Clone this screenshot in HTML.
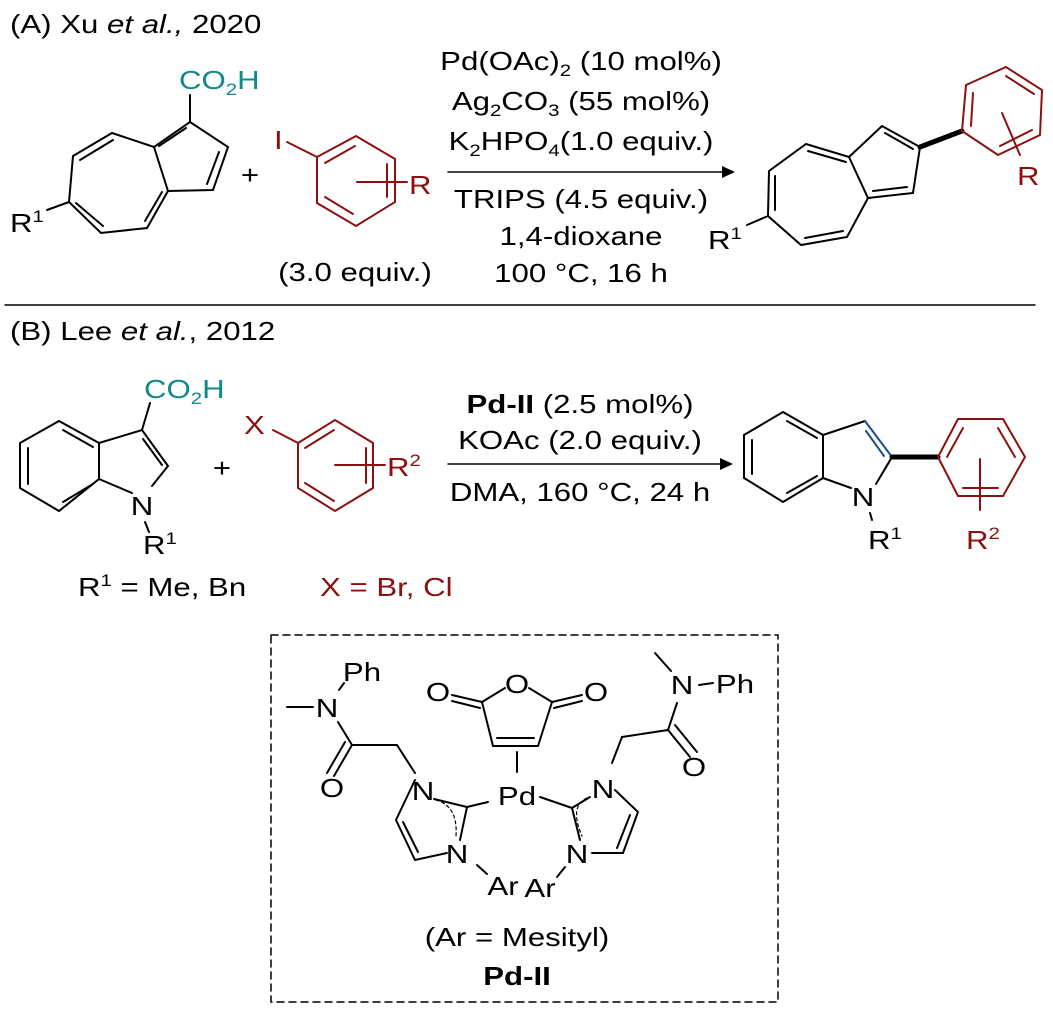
<!DOCTYPE html>
<html><head><meta charset="utf-8"><style>html,body{margin:0;padding:0;background:#fff}svg{display:block}</style></head>
<body>
<svg width="1053" height="1013" viewBox="0 0 1053 1013" xmlns="http://www.w3.org/2000/svg" font-family="Liberation Sans, Arial, sans-serif" font-size="26">
<g stroke="#000" stroke-width="2" fill="none" stroke-linecap="round">
<polyline points="190,122 228,147 213,190 168,191 154,147 190,122"/>
<polyline points="154,147 112,133 73,156 69,202 101,233 147,228 168,191"/>
<line x1="159" y1="146" x2="186" y2="128"/>
<line x1="219" y1="152" x2="207" y2="184"/>
<line x1="113" y1="140" x2="80" y2="160"/>
<line x1="76" y1="203" x2="103" y2="226"/>
<line x1="145" y1="221" x2="162" y2="192"/>
<line x1="190" y1="122" x2="190" y2="95"/>
<line x1="69" y1="202" x2="47" y2="210"/>
<polyline points="882,126 920,147 913,193 868,198 849,157 882,126"/>
<polyline points="849,157 806,144 769,171 768,216 801,245 847,237 868,198"/>
<line x1="885" y1="133" x2="913" y2="149"/>
<line x1="873" y1="191" x2="907" y2="187"/>
<line x1="808" y1="151" x2="846" y2="162"/>
<line x1="775" y1="176" x2="775" y2="210"/>
<line x1="805" y1="238" x2="843" y2="231"/>
<line x1="768" y1="216" x2="747" y2="225"/>
<line x1="920" y1="147" x2="962" y2="131" stroke-width="5"/>
<line x1="448" y1="172" x2="725" y2="172" stroke-width="1.5"/>
<line x1="5" y1="305" x2="1035" y2="305" stroke-width="1.5"/>
<polyline points="59,421 99,443 99,479 59,511 20,488 20,443 59,421"/>
<line x1="63" y1="430" x2="93" y2="447"/>
<line x1="28" y1="448" x2="28" y2="484"/>
<line x1="63" y1="502" x2="93" y2="484"/>
<polyline points="99,443 142,430 168,466 152,486"/>
<line x1="99" y1="479" x2="132" y2="493"/>
<line x1="143" y1="439" x2="162" y2="465"/>
<line x1="142" y1="430" x2="150" y2="403"/>
<line x1="145" y1="522" x2="149" y2="532"/>
<polyline points="783,412 823,435 823,478 783,502 744,478 744,435 783,412"/>
<line x1="787" y1="421" x2="817" y2="438"/>
<line x1="752" y1="440" x2="752" y2="474"/>
<line x1="787" y1="493" x2="817" y2="476"/>
<line x1="823" y1="435" x2="865" y2="421"/>
<line x1="865" y1="421" x2="892" y2="457" stroke="#1a4f8a"/>
<line x1="866" y1="431" x2="884" y2="456" stroke="#1a4f8a"/>
<line x1="892" y1="457" x2="876" y2="484"/>
<line x1="823" y1="478" x2="851" y2="488"/>
<line x1="870" y1="513" x2="872" y2="520"/>
<line x1="892" y1="457" x2="938" y2="457" stroke-width="5"/>
<line x1="448" y1="464" x2="723" y2="464" stroke-width="1.5"/>
<rect x="271" y="635" width="507" height="367" stroke-width="1.5" stroke-dasharray="7,5"/>
<polyline points="482,702 493,746 538,746 552,702"/>
<line x1="482" y1="702" x2="452" y2="695"/>
<line x1="480" y1="708" x2="452" y2="701"/>
<line x1="552" y1="702" x2="582" y2="695"/>
<line x1="554" y1="708" x2="582" y2="701"/>
<line x1="482" y1="702" x2="505" y2="688"/>
<line x1="529" y1="688" x2="552" y2="702"/>
<line x1="497" y1="738" x2="534" y2="738"/>
<line x1="517" y1="752" x2="517" y2="772"/>
<line x1="488" y1="802" x2="467" y2="807"/>
<polyline points="434,799 467,807 460,840"/>
<polyline points="415,780 396,820 415,860 447,853"/>
<line x1="403" y1="822" x2="418" y2="852"/>
<path d="M436,800 Q458,806 456,836" stroke-dasharray="3,3" stroke-width="1.2"/>
<line x1="477" y1="865" x2="487" y2="874"/>
<line x1="415" y1="773" x2="397" y2="745"/>
<line x1="397" y1="745" x2="352" y2="745"/>
<line x1="352" y1="745" x2="334" y2="776"/>
<line x1="345" y1="742" x2="327" y2="773"/>
<line x1="352" y1="745" x2="338" y2="722"/>
<line x1="287" y1="707" x2="313" y2="707"/>
<line x1="339" y1="690" x2="344" y2="683"/>
<line x1="540" y1="797" x2="572" y2="808"/>
<polyline points="590,797 572,808 580,840"/>
<polyline points="615,790 638,812 623,853 592,853"/>
<line x1="630" y1="815" x2="617" y2="848"/>
<path d="M587,798 Q569,806 582,836" stroke-dasharray="3,3" stroke-width="1.2"/>
<line x1="565" y1="867" x2="557" y2="877"/>
<line x1="612" y1="763" x2="622" y2="737"/>
<line x1="622" y1="737" x2="668" y2="730"/>
<line x1="668" y1="730" x2="690" y2="757"/>
<line x1="675" y1="725" x2="697" y2="752"/>
<line x1="668" y1="730" x2="677" y2="703"/>
<line x1="655" y1="653" x2="671" y2="671"/>
<line x1="699" y1="685" x2="713" y2="683"/>
</g>
<g stroke="#8b1010" stroke-width="2" fill="none" stroke-linecap="round">
<polyline points="317,157 356,136 395,159 395,202 356,226 317,203 317,157"/>
<line x1="325" y1="163" x2="355" y2="146"/>
<line x1="387" y1="164" x2="387" y2="197"/>
<line x1="325" y1="197" x2="353" y2="214"/>
<line x1="287" y1="142" x2="317" y2="157"/>
<line x1="357" y1="182" x2="407" y2="182"/>
<polyline points="962,131 966,85 1006,67 1042,90 1040,135 998,155 962,131"/>
<line x1="971" y1="126" x2="973" y2="93"/>
<line x1="1006" y1="76" x2="1034" y2="94"/>
<line x1="1032" y1="130" x2="1000" y2="146"/>
<line x1="1002" y1="113" x2="1020" y2="155"/>
<polyline points="298,443 335,420 373,443 373,488 335,511 298,488 298,443"/>
<line x1="305" y1="448" x2="334" y2="430"/>
<line x1="366" y1="448" x2="366" y2="483"/>
<line x1="305" y1="483" x2="334" y2="501"/>
<line x1="273" y1="430" x2="298" y2="443"/>
<line x1="335" y1="465" x2="385" y2="465"/>
<polyline points="938,457 958,419 1003,419 1025,457 1003,496 958,496 938,457"/>
<line x1="947" y1="457" x2="963" y2="428"/>
<line x1="998" y1="428" x2="1015" y2="457"/>
<line x1="963" y1="488" x2="998" y2="488"/>
<line x1="980" y1="459" x2="980" y2="510"/>
</g>
<polygon points="735,172 722,166 722,178" fill="#000"/>
<polygon points="733,464 720,458 720,470" fill="#000"/>
<g fill="#000">
<text transform="translate(10,33) scale(1.2,1)">(A) Xu <tspan font-style="italic">et al.,</tspan> 2020</text>
<text transform="translate(10,340) scale(1.2,1)">(B) Lee <tspan font-style="italic">et al.</tspan>, 2012</text>
<text transform="translate(10,232) scale(1.2,1)">R<tspan font-size="17" dy="-10">1</tspan></text>
<text transform="translate(250,184) scale(1.2,1)" text-anchor="middle">+</text>
<text transform="translate(355,281) scale(1.2,1)" text-anchor="middle">(3.0 equiv.)</text>
<g text-anchor="middle">
<text transform="translate(581,70) scale(1.2,1)">Pd(OAc)<tspan font-size="17" dy="6">2</tspan><tspan dy="-6"> (10 mol%)</tspan></text>
<text transform="translate(581,110) scale(1.2,1)">Ag<tspan font-size="17" dy="6">2</tspan><tspan dy="-6">CO</tspan><tspan font-size="17" dy="6">3</tspan><tspan dy="-6"> (55 mol%)</tspan></text>
<text transform="translate(581,150) scale(1.2,1)">K<tspan font-size="17" dy="6">2</tspan><tspan dy="-6">HPO</tspan><tspan font-size="17" dy="6">4</tspan><tspan dy="-6">(1.0 equiv.)</tspan></text>
<text transform="translate(581,208) scale(1.2,1)">TRIPS (4.5 equiv.)</text>
<text transform="translate(581,245) scale(1.2,1)">1,4-dioxane</text>
<text transform="translate(581,282) scale(1.2,1)">100 °C, 16 h</text>
<text transform="translate(580,413) scale(1.2,1)"><tspan font-weight="bold">Pd-II</tspan> (2.5 mol%)</text>
<text transform="translate(580,449) scale(1.2,1)">KOAc (2.0 equiv.)</text>
<text transform="translate(580,501) scale(1.2,1)">DMA, 160 °C, 24 h</text>
</g>
<text transform="translate(708,249) scale(1.2,1)">R<tspan font-size="17" dy="-10">1</tspan></text>
<text transform="translate(222,477) scale(1.2,1)" text-anchor="middle">+</text>
<text transform="translate(142,515) scale(1.2,1)" text-anchor="middle">N</text>
<text transform="translate(143,554) scale(1.2,1)">R<tspan font-size="17" dy="-10">1</tspan></text>
<text transform="translate(78,596) scale(1.2,1)">R<tspan font-size="17" dy="-10">1</tspan><tspan dy="10"> = Me, Bn</tspan></text>
<text transform="translate(863,506) scale(1.2,1)" text-anchor="middle">N</text>
<text transform="translate(868,549) scale(1.2,1)">R<tspan font-size="17" dy="-10">1</tspan></text>
<g text-anchor="middle">
<text transform="translate(327,717) scale(1.2,1)">N</text>
<text transform="translate(362,681) scale(1.2,1)">Ph</text>
<text transform="translate(332,797) scale(1.2,1)">O</text>
<text transform="translate(438,701) scale(1.2,1)">O</text>
<text transform="translate(517,693) scale(1.2,1)">O</text>
<text transform="translate(596,701) scale(1.2,1)">O</text>
<text transform="translate(682,694) scale(1.2,1)">N</text>
<text transform="translate(735,693) scale(1.2,1)">Ph</text>
<text transform="translate(694,776) scale(1.2,1)">O</text>
<text transform="translate(517,805) scale(1.2,1)">Pd</text>
<text transform="translate(423,800) scale(1.2,1)">N</text>
<text transform="translate(457,863) scale(1.2,1)">N</text>
<text transform="translate(603,798) scale(1.2,1)">N</text>
<text transform="translate(577,863) scale(1.2,1)">N</text>
<text transform="translate(503,895) scale(1.2,1)">Ar</text>
<text transform="translate(540,897) scale(1.2,1)">Ar</text>
<text transform="translate(517,946) scale(1.2,1)">(Ar = Mesityl)</text>
<text transform="translate(517,985) scale(1.2,1)" font-weight="bold">Pd-II</text>
</g>
</g>
<g fill="#0e8a8a">
<text transform="translate(179,89) scale(1.2,1)">CO<tspan font-size="17" dy="6">2</tspan><tspan dy="-6">H</tspan></text>
<text transform="translate(144,398) scale(1.2,1)">CO<tspan font-size="17" dy="6">2</tspan><tspan dy="-6">H</tspan></text>
</g>
<g fill="#8b1010">
<text transform="translate(274,149) scale(1.2,1)">I</text>
<text transform="translate(409,194) scale(1.2,1)">R</text>
<text transform="translate(1017,185) scale(1.2,1)">R</text>
<text transform="translate(244,434) scale(1.2,1)">X</text>
<text transform="translate(387,476) scale(1.2,1)">R<tspan font-size="17" dy="-10">2</tspan></text>
<text transform="translate(320,596) scale(1.2,1)">X = Br, Cl</text>
<text transform="translate(966,549) scale(1.2,1)">R<tspan font-size="17" dy="-10">2</tspan></text>
</g>
</svg>
</body></html>
